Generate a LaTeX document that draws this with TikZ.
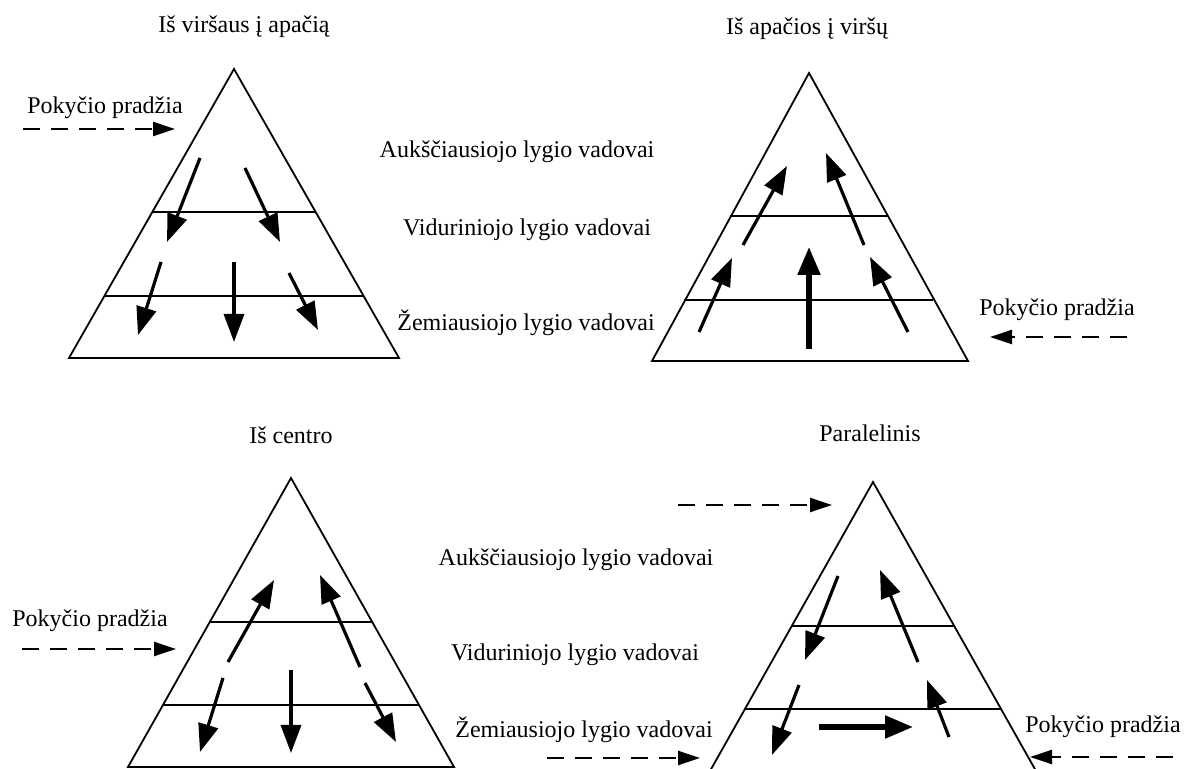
\documentclass[tikz,border=0pt]{standalone}
\usepackage{fontspec}
\setmainfont{Liberation Serif}
\usepackage{tikz}
\usetikzlibrary{arrows.meta}
\usetikzlibrary{positioning}
\tikzset{main node/.style={shape=rectangle, inner sep=1pt,
    align=center, font=\fontsize{12}{14}\selectfont}}
\tikzset{pyramid/.style={line width=0.9pt, line join=miter}}
\tikzset{flow/.style={line width=1.6pt, -{Triangle[length=14pt,width=10pt]}}}
\tikzset{bigflow/.style={line width=2.6pt, -{Triangle[length=14pt,width=11pt]}}}
\tikzset{start/.style={line width=1.2pt, dash pattern=on 8.5pt off 5.5pt,
    -{Triangle[length=11pt,width=7pt]}}}

\begin{document}
\begin{tikzpicture}[x=0.5pt,y=-0.5pt]
    \useasboundingbox (0,0) rectangle (1184,769);

    % titles
    \node[main node] (1) at (244,27) {Iš viršaus į apačią};
    \node[main node] (2) at (807,29) {Iš apačios į viršų};
    \node[main node] (3) at (291,435) {Iš centro};
    \node[main node] (4) at (870,433) {Paralelinis};

    % level names
    \node[main node] (5) at (517,152) {Aukščiausiojo lygio vadovai};
    \node[main node] (6) at (527,230) {Viduriniojo lygio vadovai};
    \node[main node] (7) at (526,323) {Žemiausiojo lygio vadovai};
    \node[main node] (8) at (576,560) {Aukščiausiojo lygio vadovai};
    \node[main node] (9) at (575,655) {Viduriniojo lygio vadovai};
    \node[main node] (10) at (584,730) {Žemiausiojo lygio vadovai};

    % start of change
    \node[main node] (11) at (105,108) {Pokyčio pradžia};
    \node[main node] (12) at (1057,310) {Pokyčio pradžia};
    \node[main node] (13) at (90,621) {Pokyčio pradžia};
    \node[main node] (14) at (1103,727) {Pokyčio pradžia};

    % pyramids
    \draw[pyramid] (234,69) -- (399,358) -- (69,358) -- cycle;
    \draw[pyramid] (153,212) -- (316,212) (104,296) -- (364,296);
    \draw[pyramid] (809,73) -- (968,361) -- (652,361) -- cycle;
    \draw[pyramid] (730,216) -- (887,216) (684,300) -- (933,300);
    \draw[pyramid] (291,478) -- (454,767) -- (128,767) -- cycle;
    \draw[pyramid] (210,622) -- (372,622) (163,705) -- (419,705);
    \draw[pyramid] (873,482) -- (1036,771) -- (710,771) -- cycle;
    \draw[pyramid] (792,626) -- (955,626) (745,709) -- (1001,709);

    % dashed entry points
    \coordinate (s1) at (23,129);   \coordinate (e1) at (175,129);
    \coordinate (s2) at (1127,337); \coordinate (e2) at (990,337);
    \coordinate (s3) at (22,649);   \coordinate (e3) at (176,649);
    \coordinate (s4) at (1173,757); \coordinate (e4) at (1030,757);
    \coordinate (s5) at (678,505);  \coordinate (e5) at (832,505);
    \coordinate (s6) at (547,758);  \coordinate (e6) at (700,758);

    \path[start]
    (s1) edge (e1)
    (s2) edge (e2)
    (s3) edge (e3)
    (s4) edge (e4)
    (s5) edge (e5)
    (s6) edge (e6)
    ;

    % top down
    \coordinate (a1) at (200,158); \coordinate (a2) at (167,242);
    \coordinate (a3) at (245,168); \coordinate (a4) at (280,242);
    \coordinate (a5) at (161,262); \coordinate (a6) at (138,335);
    \coordinate (a7) at (234,262); \coordinate (a8) at (234,342);
    \coordinate (a9) at (289,273); \coordinate (a10) at (318,330);

    \path[flow]
    (a1) edge (a2)
    (a3) edge (a4)
    (a5) edge (a6)
    (a7) edge (a8)
    (a9) edge (a10)
    ;

    % bottom up
    \coordinate (b1) at (743,245); \coordinate (b2) at (787,166);
    \coordinate (b3) at (864,245); \coordinate (b4) at (826,153);
    \coordinate (b5) at (699,332); \coordinate (b6) at (732,258);
    \coordinate (b7) at (809,349); \coordinate (b8) at (809,247);
    \coordinate (b9) at (908,332); \coordinate (b10) at (870,257);

    \path[flow]
    (b1) edge (b2)
    (b3) edge (b4)
    (b5) edge (b6)
    (b9) edge (b10)
    ;
    \draw[bigflow] (b7) -- (b8);

    % from the centre
    \coordinate (c1) at (228,662); \coordinate (c2) at (274,580);
    \coordinate (c3) at (360,667); \coordinate (c4) at (320,575);
    \coordinate (c5) at (223,678); \coordinate (c6) at (200,752);
    \coordinate (c7) at (291,670); \coordinate (c8) at (291,753);
    \coordinate (c9) at (365,683); \coordinate (c10) at (396,742);

    \path[flow]
    (c1) edge (c2)
    (c3) edge (c4)
    (c5) edge (c6)
    (c7) edge (c8)
    (c9) edge (c10)
    ;

    % parallel
    \coordinate (d1) at (838,576); \coordinate (d2) at (805,660);
    \coordinate (d3) at (918,662); \coordinate (d4) at (880,570);
    \coordinate (d5) at (799,685); \coordinate (d6) at (772,755);
    \coordinate (d7) at (949,737); \coordinate (d8) at (927,680);
    \coordinate (d9) at (819,727); \coordinate (d10) at (913,727);

    \path[flow]
    (d1) edge (d2)
    (d3) edge (d4)
    (d5) edge (d6)
    (d7) edge (d8)
    ;
    \draw[bigflow] (d9) -- (d10);
\end{tikzpicture}
\end{document}
